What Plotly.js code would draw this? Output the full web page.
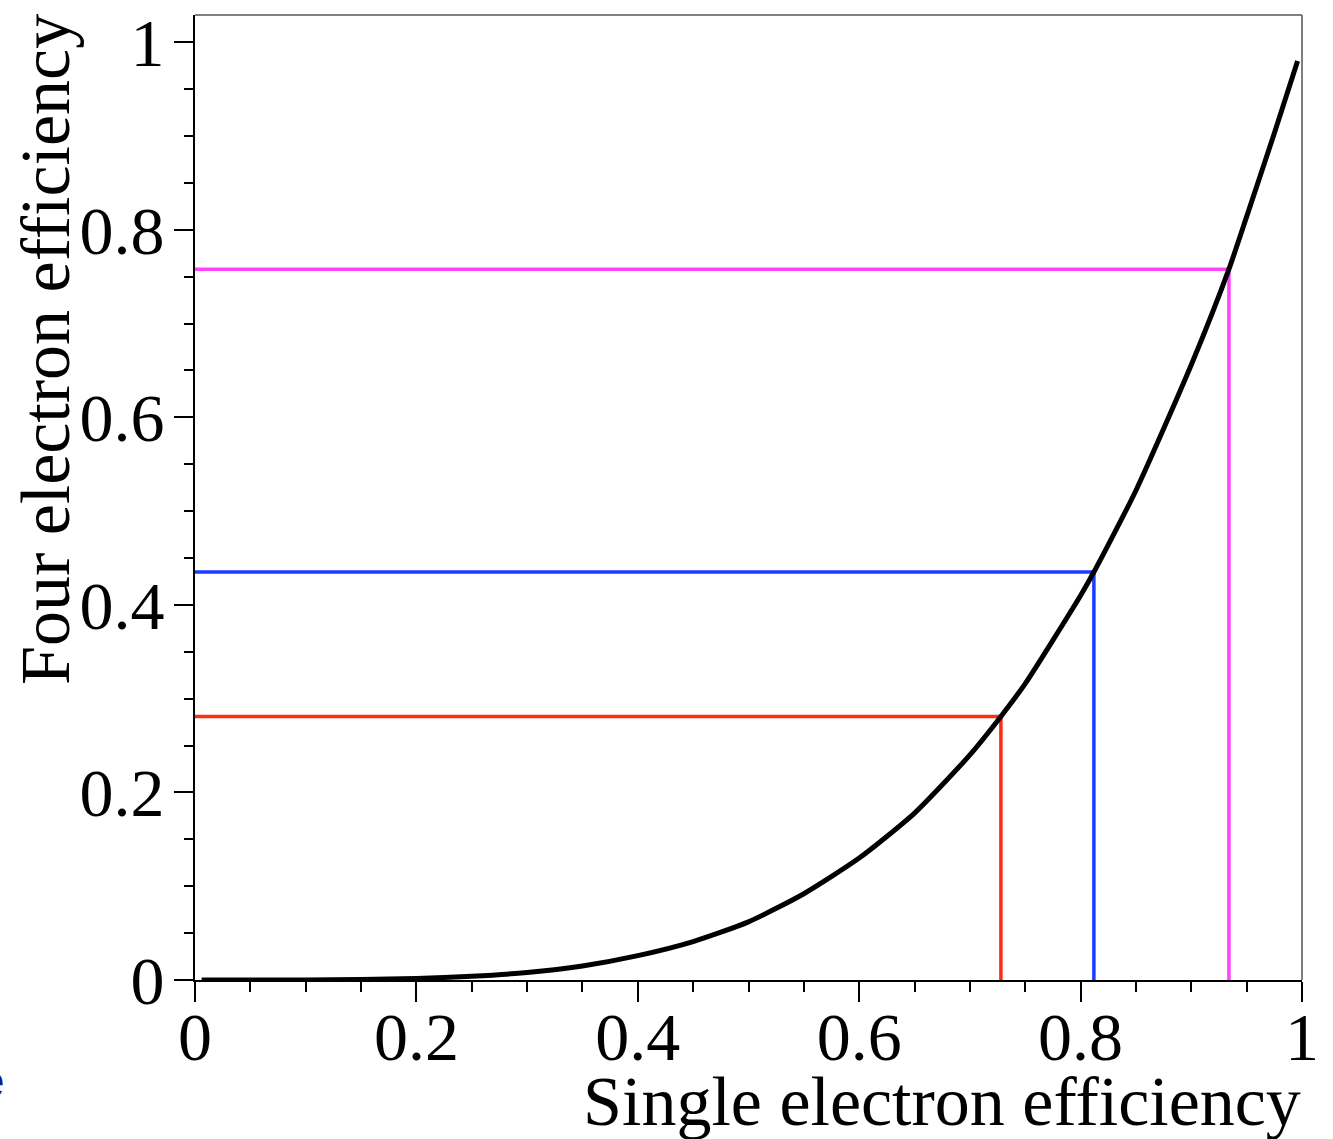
<!DOCTYPE html>
<html>
<head>
<meta charset="utf-8">
<script src="https://cdn.plot.ly/plotly-3.0.1.min.js"></script>
<style>html,body{margin:0;padding:0;background:#fff;}#chart{width:1333px;height:1139px;}</style>
</head>
<body>
<div id="chart"></div>
<script>
// Curve: four electron efficiency vs single electron efficiency
const curveX = [0.006, 0.05, 0.1, 0.15, 0.2, 0.25, 0.3, 0.35, 0.4, 0.45, 0.5, 0.55, 0.6, 0.65, 0.7, 0.728, 0.75, 0.8, 0.812, 0.85, 0.9, 0.934, 0.95, 0.975, 0.996];
const curveY = [0.0, 0.0, 0.0001, 0.0005, 0.0016, 0.004, 0.008, 0.015, 0.026, 0.041, 0.062, 0.092, 0.13, 0.178, 0.24, 0.281, 0.316, 0.41, 0.435, 0.522, 0.656, 0.758, 0.814, 0.903, 0.980];

// Reference drop lines
const refX = [0.728, 0.812, 0.934];
const refY = [0.281, 0.435, 0.758];
const refColors = ['#ff2d10', '#1a3cff', '#ff44ff'];

const xTickVals = [0, 0.2, 0.4, 0.6, 0.8, 1];
const xTickText = ['0', '0.2', '0.4', '0.6', '0.8', '1'];
const yTickVals = [0, 0.2, 0.4, 0.6, 0.8, 1];
const yTickText = ['0', '0.2', '0.4', '0.6', '0.8', '1'];

const xTitle = 'Single electron efficiency';
const yTitle = 'Four electron efficiency';

const FONT = 'Liberation Serif, Times New Roman, serif';

const traces = [];
for (let i = 0; i < refX.length; i++) {
  traces.push({
    x: [0, refX[i], refX[i]],
    y: [refY[i], refY[i], 0],
    mode: 'lines',
    line: {color: refColors[i], width: 3.5},
    hoverinfo: 'skip',
    showlegend: false
  });
}
traces.push({
  x: curveX, y: curveY, mode: 'lines',
  line: {color: '#000', width: 5, shape: 'spline', smoothing: 0.6},
  showlegend: false, cliponaxis: false
});

const layout = {
  width: 1333, height: 1139,
  margin: {l: 195, r: 31, t: 15, b: 159},
  paper_bgcolor: '#fff', plot_bgcolor: '#fff',
  showlegend: false,
  font: {family: FONT, color: '#000'},
  xaxis: {
    range: [0, 1], showgrid: false, zeroline: false,
    showline: true, linecolor: '#000', linewidth: 2,
    ticks: 'outside', ticklen: 20, tickwidth: 2, tickcolor: '#000',
    tickvals: xTickVals, ticktext: xTickText,
    tickfont: {family: FONT, size: 68, color: '#000'},
    ticklabelstandoff: -24,
    minor: {dtick: 0.05, tick0: 0, ticks: 'outside', ticklen: 10, tickwidth: 2, tickcolor: '#000', showgrid: false}
  },
  yaxis: {
    range: [0, 1.029], showgrid: false, zeroline: false,
    showline: true, linecolor: '#000', linewidth: 2,
    ticks: 'outside', ticklen: 19, tickwidth: 2, tickcolor: '#000',
    tickvals: yTickVals, ticktext: yTickText,
    tickfont: {family: FONT, size: 68, color: '#000'},
    ticklabelstandoff: -4,
    minor: {dtick: 0.05, tick0: 0, ticks: 'outside', ticklen: 9, tickwidth: 2, tickcolor: '#000', showgrid: false}
  },
  shapes: [
    {type: 'line', xref: 'paper', yref: 'paper', x0: 0, x1: 1, y0: 1, y1: 1, line: {color: '#555', width: 1.5}},
    {type: 'line', xref: 'paper', yref: 'paper', x0: 1, x1: 1, y0: 0, y1: 1, line: {color: '#555', width: 1.5}}
  ],
  annotations: [
    {text: xTitle, xref: 'paper', yref: 'paper', x: 1.0013, y: -0.168, xanchor: 'right', yanchor: 'bottom',
     showarrow: false, font: {family: FONT, size: 70, color: '#000'}},
    {text: yTitle, xref: 'paper', yref: 'paper', x: -0.1717, y: 1.003, xanchor: 'left', yanchor: 'top',
     textangle: -90, showarrow: false, font: {family: FONT, size: 70, color: '#000'}},
    {text: 'e', xref: 'paper', yref: 'paper', x: -0.1835, y: -0.105, xanchor: 'center', yanchor: 'middle',
     showarrow: false, font: {family: 'Liberation Sans, Arial, sans-serif', size: 46, color: '#101c8c'}}
  ]
};

Plotly.newPlot('chart', traces, layout, {displayModeBar: false, staticPlot: true});
</script>
</body>
</html>
